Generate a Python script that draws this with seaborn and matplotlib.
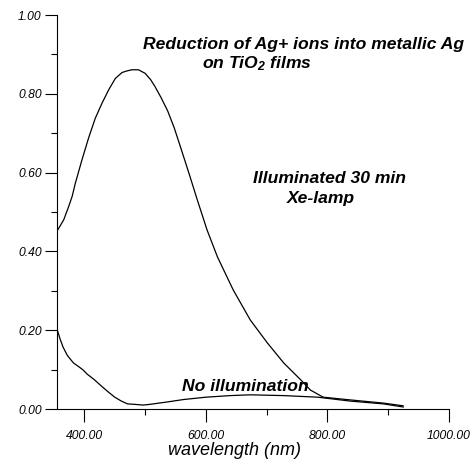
import numpy as np
import pandas as pd
import seaborn as sns
import matplotlib
matplotlib.use("Agg")
import matplotlib.pyplot as plt
from matplotlib.ticker import MultipleLocator, FormatStrFormatter

# absorbance spectra
illum_wl = [356, 366, 374, 380, 385, 396, 407, 418, 429, 440, 451, 462, 470, 478, 489, 500,
            509, 516, 526, 537, 548, 558, 573, 586, 602, 619, 645, 673, 701, 728, 756, 772,
            793, 838, 892, 925]
illum_abs = [0.454, 0.480, 0.513, 0.540, 0.572, 0.632, 0.688, 0.738, 0.776, 0.810, 0.839,
             0.854, 0.858, 0.861, 0.861, 0.852, 0.836, 0.819, 0.791, 0.757, 0.713, 0.666,
             0.594, 0.530, 0.454, 0.386, 0.302, 0.226, 0.168, 0.117, 0.074, 0.048, 0.030,
             0.023, 0.015, 0.008]

dark_wl = [355, 360, 365, 372, 382, 392, 398, 405, 416, 426, 438, 450, 461, 471, 481, 497,
           509, 537, 563, 600, 640, 673, 728, 784, 838, 892, 925]
dark_abs = [0.203, 0.178, 0.157, 0.136, 0.117, 0.106, 0.099, 0.088, 0.075, 0.061, 0.045,
            0.030, 0.020, 0.013, 0.012, 0.010, 0.012, 0.018, 0.024, 0.030, 0.034, 0.036,
            0.034, 0.030, 0.020, 0.013, 0.005]

x_ticks = [400, 600, 800, 1000]
y_ticks = [0.0, 0.2, 0.4, 0.6, 0.8, 1.0]

sns.set_style("white")
plt.rcParams['font.family'] = ['Liberation Sans', 'DejaVu Sans']
plt.rcParams['text.color'] = 'black'
plt.rcParams['axes.labelcolor'] = 'black'
plt.rcParams['mathtext.fontset'] = 'custom'
plt.rcParams['mathtext.rm'] = 'Liberation Sans:italic:bold'
plt.rcParams['mathtext.it'] = 'Liberation Sans:italic:bold'
plt.rcParams['mathtext.bf'] = 'Liberation Sans:italic:bold'

fig = plt.figure(figsize=(4.74, 4.69), dpi=100)
ax = fig.add_axes([57 / 474, 60 / 469, 392 / 474, 394 / 469])

illum = pd.DataFrame({'wl': illum_wl, 'A': illum_abs})
dark = pd.DataFrame({'wl': dark_wl, 'A': dark_abs})
sns.lineplot(data=illum, x='wl', y='A', ax=ax, color='black', lw=0.9)
sns.lineplot(data=dark, x='wl', y='A', ax=ax, color='black', lw=0.9)

ax.set_xlim(355, 1000)
ax.set_ylim(0, 1.0)
ax.set_xticks(x_ticks)
ax.set_yticks(y_ticks)
ax.xaxis.set_minor_locator(MultipleLocator(100))
ax.yaxis.set_minor_locator(MultipleLocator(0.1))
ax.xaxis.set_major_formatter(FormatStrFormatter('%.2f'))
ax.yaxis.set_major_formatter(FormatStrFormatter('%.2f'))
ax.tick_params(which='major', direction='out', length=9, width=0.8, color='black',
               labelsize=8.7, labelcolor='black')
ax.tick_params(which='minor', direction='out', length=4, width=0.8, color='black')
ax.tick_params(axis='y', which='both', left=True, pad=2)
ax.tick_params(axis='x', which='both', bottom=True, pad=6)
for lab in ax.get_xticklabels() + ax.get_yticklabels():
    lab.set_fontstyle('italic')

sns.despine(ax=ax)
for s in ['left', 'bottom']:
    ax.spines[s].set_linewidth(0.8)
    ax.spines[s].set_color('black')

ax.set_ylabel('')
ax.set_xlabel('wavelength (nm)', fontsize=13, fontstyle='italic')
ax.xaxis.set_label_coords((235 - 57) / 392, (409 - 450) / 394)
ax.xaxis.label.set_va('center')

# annotations placed in pixel positions of the original
def px_text(x, y, s):
    fig.text(x / 474, 1 - y / 469, s, fontsize=12.6, fontstyle='italic',
             fontweight='bold', ha='left', va='center', color='black')

px_text(143, 45, 'Reduction of Ag+ ions into metallic Ag')
px_text(202, 64, 'on TiO$_2$ films')
px_text(253, 178, 'Illuminated 30 min')
px_text(287, 198, 'Xe-lamp')
px_text(182, 386, 'No illumination')

plt.savefig('out.png', dpi=100)
